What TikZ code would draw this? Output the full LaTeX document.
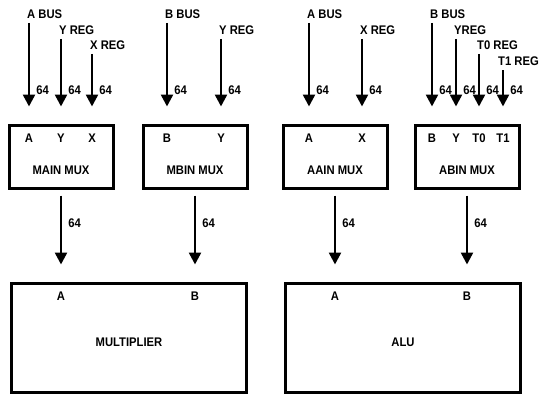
\documentclass[tikz,border=0pt]{standalone}
\usepackage{fontspec}
\setmainfont{Liberation Sans}[FakeStretch=0.9]
\usetikzlibrary{arrows.meta}

\begin{document}
\begin{tikzpicture}[x=1pt,y=-1pt,
    every node/.style={font=\fontsize{12.5}{13}\selectfont\bfseries},
    muxbox/.style={draw,line width=3pt,minimum width=104pt,minimum height=63pt},
    unitbox/.style={draw,line width=3pt,minimum width=235pt,minimum height=109pt},
    bus/.style={line width=2.5pt,shorten >=17pt,-{Triangle[length=12pt,width=12pt]}},
    sig/.style={anchor=south west,xshift=-2pt,yshift=4pt,inner sep=0pt},
    wlabel/.style={anchor=west,xshift=6pt,inner sep=0pt}]
  \useasboundingbox (0,0) rectangle (540,396);

  % multiplexers
  \node[muxbox] (mainmux) at (61,156.5) {};
  \node[muxbox] (mbinmux) at (195,156.5) {};
  \node[muxbox] (aainmux) at (335,156.5) {};
  \node[muxbox] (abinmux) at (467,156.5) {};
  \node at ([yshift=-13.5pt]mainmux.center) {MAIN MUX};
  \node at ([yshift=-13.5pt]mbinmux.center) {MBIN MUX};
  \node at ([yshift=-13.5pt]aainmux.center) {AAIN MUX};
  \node at ([yshift=-13.5pt]abinmux.center) {ABIN MUX};

  % units
  \node[unitbox] (mult) at (129,337.5) {};
  \node[unitbox] (alu) at (403,337.5) {};
  \node at ([yshift=-4.5pt]mult.center) {MULTIPLIER};
  \node at ([yshift=-4.5pt]alu.center) {ALU};

  % bus sources
  \coordinate (ma) at (29,23);
  \coordinate (my) at (61,39);
  \coordinate (mx) at (92,54);
  \coordinate (bb) at (167,23);
  \coordinate (by) at (221,39);
  \coordinate (aa) at (309,23);
  \coordinate (ax) at (362,39);
  \coordinate (ab) at (432,23);
  \coordinate (ay) at (456,39);
  \coordinate (at0) at (479,54);
  \coordinate (at1) at (503,70);

  \node[sig] (abus1) at (ma) {A BUS};
  \node[sig] (yreg1) at (my) {Y REG};
  \node[sig] (xreg1) at (mx) {X REG};
  \node[sig] (bbus1) at (bb) {B BUS};
  \node[sig] (yreg2) at (by) {Y REG};
  \node[sig] (abus2) at (aa) {A BUS};
  \node[sig] (xreg2) at (ax) {X REG};
  \node[sig] (bbus2) at (ab) {B BUS};
  \node[sig] (yreg3) at (ay) {YREG};
  \node[sig] (t0reg) at (at0) {T0 REG};
  \node[sig,xshift=-3pt] (t1reg) at (at1) {T1 REG};

  % mux inputs
  \node (mainA) at (ma |- 0,138) {A};
  \node (mainY) at (my |- 0,138) {Y};
  \node (mainX) at (mx |- 0,138) {X};
  \node (mbinB) at (bb |- 0,138) {B};
  \node (mbinY) at (by |- 0,138) {Y};
  \node (aainA) at (aa |- 0,138) {A};
  \node (aainX) at (ax |- 0,138) {X};
  \node (abinB) at (ab |- 0,138) {B};
  \node (abinY) at (ay |- 0,138) {Y};
  \node (abinT0) at (at0 |- 0,138) {T0};
  \node (abinT1) at (at1 |- 0,138) {T1};

  \draw[bus] (ma) -- (ma |- 0,90) node[wlabel]{64} -- (ma |- mainmux.north);
  \draw[bus] (my) -- (my |- 0,90) node[wlabel]{64} -- (my |- mainmux.north);
  \draw[bus] (mx) -- (mx |- 0,90) node[wlabel]{64} -- (mx |- mainmux.north);
  \draw[bus] (bb) -- (bb |- 0,90) node[wlabel]{64} -- (bb |- mbinmux.north);
  \draw[bus] (by) -- (by |- 0,90) node[wlabel]{64} -- (by |- mbinmux.north);
  \draw[bus] (aa) -- (aa |- 0,90) node[wlabel]{64} -- (aa |- aainmux.north);
  \draw[bus] (ax) -- (ax |- 0,90) node[wlabel]{64} -- (ax |- aainmux.north);
  \draw[bus] (ab) -- (ab |- 0,90) node[wlabel]{64} -- (ab |- abinmux.north);
  \draw[bus] (ay) -- (ay |- 0,90) node[wlabel]{64} -- (ay |- abinmux.north);
  \draw[bus] (at0) -- (at0 |- 0,90) node[wlabel]{64} -- (at0 |- abinmux.north);
  \draw[bus] (at1) -- (at1 |- 0,90) node[wlabel]{64} -- (at1 |- abinmux.north);

  % unit inputs
  \node (multA) at (mainmux.south |- 0,296) {A};
  \node (multB) at (mbinmux.south |- 0,296) {B};
  \node (aluA) at (aainmux.south |- 0,296) {A};
  \node (aluB) at (abinmux.south |- 0,296) {B};

  \draw[bus,shorten <=6pt] (mainmux) -- (mainmux.south |- 0,223) node[wlabel]{64} -- (mainmux.south |- mult.north);
  \draw[bus,shorten <=6pt] (mbinmux) -- (mbinmux.south |- 0,223) node[wlabel]{64} -- (mbinmux.south |- mult.north);
  \draw[bus,shorten <=6pt] (aainmux) -- (aainmux.south |- 0,223) node[wlabel]{64} -- (aainmux.south |- alu.north);
  \draw[bus,shorten <=6pt] (abinmux) -- (abinmux.south |- 0,223) node[wlabel]{64} -- (abinmux.south |- alu.north);
\end{tikzpicture}
\end{document}
